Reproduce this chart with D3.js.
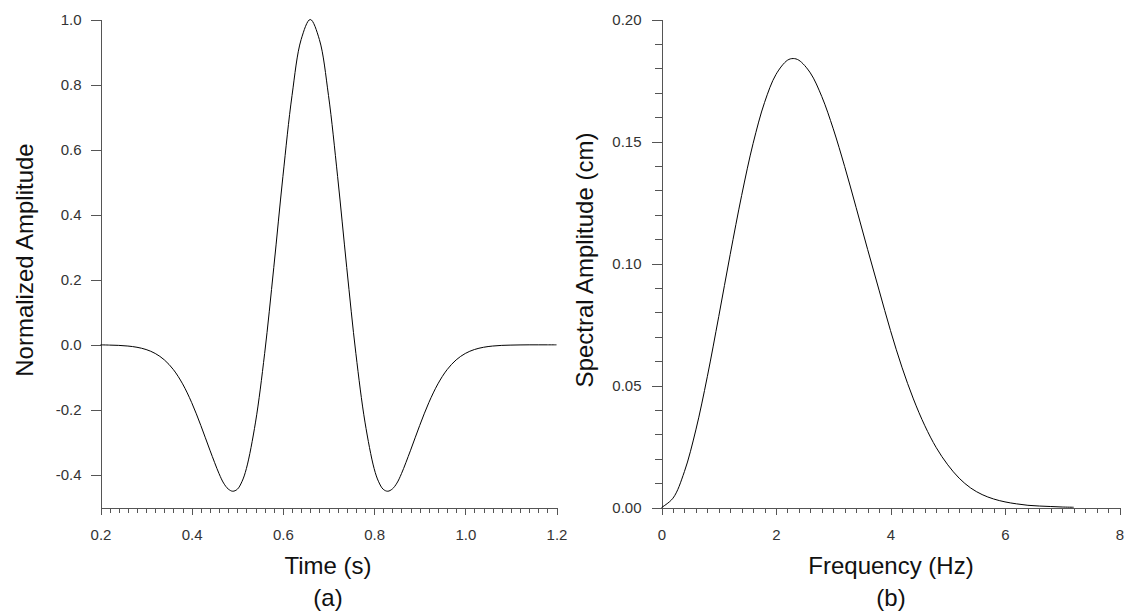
<!DOCTYPE html>
<html>
<head>
<meta charset="utf-8">
<script src="https://cdn.jsdelivr.net/npm/d3@7"></script>
<style>
  html, body { margin: 0; padding: 0; background: #fff; }
  svg { display: block; }
  .tick text { font-family: "Liberation Sans", Arial, sans-serif; font-size: 15px; fill: #333; }
  .axis path, .axis line { stroke: #555; stroke-width: 1; shape-rendering: crispEdges; }
  .title { font-family: "Liberation Sans", Arial, sans-serif; font-size: 24px; fill: #111; }
</style>
</head>
<body>
<script>
// Ricker wavelet, time domain (s) and normalized amplitude
const waveTime = [0.20,0.22,0.24,0.26,0.28,0.30,0.32,0.34,0.36,0.38,0.40,0.42,0.44,0.46,0.47,0.48,0.49,0.50,0.51,0.52,0.54,0.56,0.58,0.60,0.62,0.64,0.66,
  0.68,0.70,0.72,0.74,0.76,0.78,0.80,0.81,0.82,0.83,0.84,0.85,0.86,0.88,0.90,0.92,0.94,0.96,0.98,1.00,1.02,1.04,1.06,1.08,1.10,1.12,1.14,1.16,1.18,1.20];
const waveAmp = [0,-0.0008,-0.0017,-0.0037,-0.0075,-0.0144,-0.0265,-0.0462,-0.0764,-0.1199,-0.1777,-0.2479,-0.3239,-0.3960,-0.4250,-0.4430,-0.4500,-0.4440,-0.4210,-0.3800,-0.2375,-0.0262,0.2375,0.5171,0.7662,0.9384,1.0,
  0.9384,0.7662,0.5171,0.2375,-0.0262,-0.2375,-0.3800,-0.4210,-0.4440,-0.4500,-0.4430,-0.4250,-0.3960,-0.3239,-0.2479,-0.1777,-0.1199,-0.0764,-0.0462,-0.0265,-0.0144,-0.0075,-0.0037,-0.0017,-0.0008,-0.0003,0,0,0,0];

// Amplitude spectrum, frequency (Hz) and amplitude (cm)
const specFreq = [0,0.2,0.4,0.6,0.8,1.0,1.2,1.4,1.6,1.8,2.0,2.2,2.3,2.4,2.6,2.8,3.0,3.2,3.4,3.6,3.8,4.0,4.2,4.4,4.6,4.8,5.0,5.2,5.4,5.6,5.8,6.0,6.2,6.4,6.6,6.8,7.0,7.2];
const specAmp = [0,0.0038,0.0147,0.0318,0.0536,0.0783,0.1037,0.1279,0.1492,0.1660,0.1775,0.1833,0.1840,0.1833,0.1781,0.1684,0.1552,0.1397,0.1229,0.1058,0.0891,0.0725,0.0575,0.0445,0.0335,0.0245,0.0175,0.0120,0.0080,0.0053,0.0035,0.0023,0.0015,0.0009,0.0006,0.0004,0.0002,0.0001];

// Axis tick values
const waveXTicks = [0.2,0.4,0.6,0.8,1.0,1.2];
const waveYTicks = [-0.4,-0.2,0.0,0.2,0.4,0.6,0.8,1.0];
const specXTicks = [0,2,4,6,8];
const specYTicks = [0.00,0.05,0.10,0.15,0.20];

const W = 1129, H = 613;
const svg = d3.select("body").append("svg").attr("width", W).attr("height", H);

const xA = d3.scaleLinear().domain([0.2, 1.2]).range([100.5, 556.5]);
const yA = d3.scaleLinear().domain([-0.5, 1.0]).range([507.5, 19.5]);
const xB = d3.scaleLinear().domain([0, 8]).range([661.5, 1119.5]);
const yB = d3.scaleLinear().domain([0, 0.2]).range([507.5, 19.5]);

// fixed-decimal labels with a plain hyphen for negatives
const fixed = n => v => v.toFixed(n);

function rangeTicks(a, b, step) {
  const n = Math.round((b - a) / step);
  return d3.range(n + 1).map(i => +(a + i * step).toFixed(6));
}

function drawPanel(x, y, xTicks, yTicks, xMinorStep, yMinorStep, xFmt, yFmt, yLabelOffset) {
  const gx = svg.append("g").attr("class", "axis").attr("transform", `translate(0,${y.range()[0]})`);
  gx.append("g").call(d3.axisBottom(x).tickValues(rangeTicks(x.domain()[0], x.domain()[1], xMinorStep))
    .tickSize(5).tickSizeOuter(0).tickFormat(""));
  gx.append("g").call(d3.axisBottom(x).tickValues(xTicks).tickSize(7).tickSizeOuter(0).tickPadding(15).tickFormat(xFmt));

  const gy = svg.append("g").attr("class", "axis").attr("transform", `translate(${x.range()[0]},0)`);
  if (yMinorStep) {
    gy.append("g").call(d3.axisLeft(y).tickValues(rangeTicks(y.domain()[0], y.domain()[1], yMinorStep))
      .tickSize(7).tickSizeOuter(0).tickFormat(""));
  }
  gy.append("g").call(d3.axisLeft(y).tickValues(yTicks).tickSize(10).tickSizeOuter(0).tickPadding(yLabelOffset).tickFormat(yFmt));
}

drawPanel(xA, yA, waveXTicks, waveYTicks, 0.02, null, fixed(1), fixed(1), 9);
drawPanel(xB, yB, specXTicks, specYTicks, 0.2, 0.01, fixed(0), fixed(2), 10);

const lineA = d3.line().x((d, i) => xA(waveTime[i])).y(d => yA(d)).curve(d3.curveCatmullRom.alpha(0.5));
svg.append("path").attr("d", lineA(waveAmp)).attr("fill", "none").attr("stroke", "#000").attr("stroke-width", 1);

const lineB = d3.line().x((d, i) => xB(specFreq[i])).y(d => yB(d)).curve(d3.curveCatmullRom.alpha(0.5));
svg.append("path").attr("d", lineB(specAmp)).attr("fill", "none").attr("stroke", "#000").attr("stroke-width", 1);

// Axis titles and panel captions
function title(txt, x, y, rot) {
  const t = svg.append("text").attr("class", "title").attr("text-anchor", "middle").text(txt);
  if (rot) t.attr("transform", `translate(${x},${y}) rotate(-90)`);
  else t.attr("x", x).attr("y", y);
}
title("Time (s)", 328, 574);
title("(a)", 328, 606);
title("Frequency (Hz)", 891, 574);
title("(b)", 891, 606);
title("Normalized Amplitude", 33, 260, true);
title("Spectral Amplitude (cm)", 593, 260, true);
</script>
</body>
</html>
